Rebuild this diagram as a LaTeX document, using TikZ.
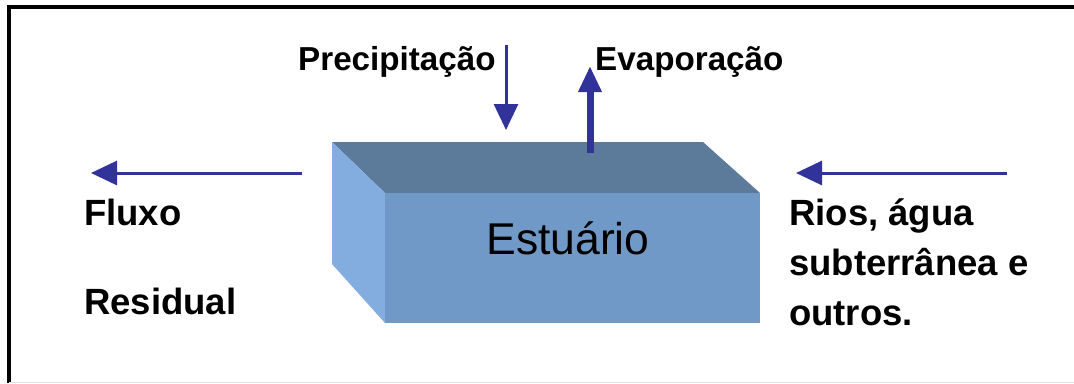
\documentclass[tikz,border=0pt]{standalone}
\usepackage{fontspec}
\setmainfont{Liberation Sans}
\usetikzlibrary{arrows.meta}
\definecolor{arrowblue}{RGB}{50,50,155}
\definecolor{topface}{RGB}{92,123,155}
\definecolor{frontface}{RGB}{113,153,199}
\definecolor{leftface}{RGB}{130,173,222}
\tikzset{
  lbl/.style={inner sep=0pt, anchor=base west, font=\bfseries\fontsize{36.5}{50}\selectfont},
  toplbl/.style={inner sep=0pt, anchor=base west, font=\bfseries\fontsize{33.2}{40}\selectfont},
  flow/.style={draw=arrowblue, line width=3pt, -{Triangle[length=26pt,width=24pt]}},
  flowthick/.style={draw=arrowblue, line width=7pt, -{Triangle[length=26pt,width=22pt]}},
}
\begin{document}
\begin{tikzpicture}[x=1pt,y=-1pt]
\useasboundingbox (0,0) rectangle (1074,383);
% frame
\draw[line width=4pt] (9,383) -- (9,7) -- (1074,7);
\draw[black!12, line width=1pt] (9,382) -- (1074,382);
% box
\coordinate (bl) at (332,142);
\coordinate (br) at (703,142);
\coordinate (ftl) at (385,193);
\coordinate (ftr) at (760,193);
\coordinate (fbl) at (385,323);
\coordinate (fbr) at (760,323);
\coordinate (lbb) at (332,264);
\fill[topface] (bl) -- (br) -- (ftr) -- (ftl) -- cycle;
\fill[leftface] (bl) -- (ftl) -- (fbl) -- (lbb) -- cycle;
\fill[frontface] (ftl) -- (ftr) -- (fbr) -- (fbl) -- cycle;
\node[inner sep=0pt, anchor=base, font=\fontsize{44.5}{50}\selectfont] (est) at (568,254) {Estuário};
% labels
\node[toplbl] (prec) at (298,70) {Precipitação};
\node[toplbl] (evap) at (595,70) {Evaporação};
\node[lbl] (fluxo) at (84,225) {Fluxo};
\node[lbl] (resid) at (84,314) {Residual};
\node[lbl, align=left] (rios) at (789,325) {Rios, água\\subterrânea e\\outros.};
% arrow ends
\coordinate (precA) at (506,45);
\coordinate (precB) at (506,130);
\coordinate (evapA) at (590,153);
\coordinate (evapB) at (590,66);
\coordinate (leftA) at (302,173);
\coordinate (leftB) at (91,173);
\coordinate (rightA) at (1007,173);
\coordinate (rightB) at (796,173);
\draw[flow] (precA) -- (precB);
\draw[flowthick] (evapA) -- (evapB);
\draw[flow] (leftA) -- (leftB);
\draw[flow] (rightA) -- (rightB);
\end{tikzpicture}
\end{document}
